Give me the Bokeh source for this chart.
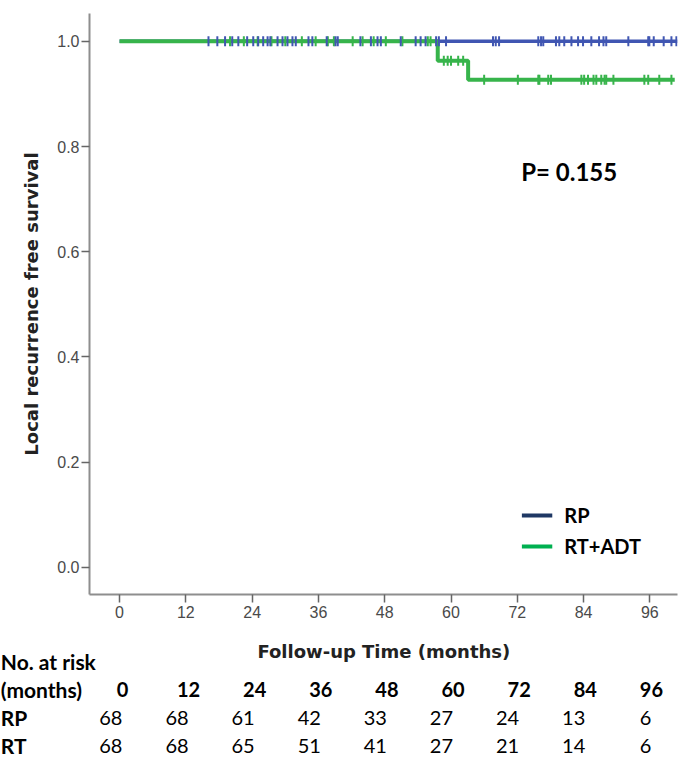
import numpy as np
from bokeh.plotting import figure
from bokeh.layouts import column
from bokeh.models import (FixedTicker, PrintfTickFormatter, Label,
                          Legend, LegendItem, Range1d)
from bokeh.core.properties import value
from bokeh.embed import file_html
from bokeh.resources import INLINE

# ---------------- data ----------------
# Kaplan-Meier step curves (time in months, survival)
rp_time = [0, 101.0]
rp_surv = [1.0, 1.0]
rt_time = [0, 57.6, 63.1, 100.5]
rt_surv = [1.0, 0.963, 0.927, 0.927]

# censoring marks
rp_cens_time = [16.1, 17.7, 19.1, 20.4, 21.5, 23.1, 24.2, 25.1, 26.0, 26.8, 27.3,
                28.6, 29.5, 30.4, 31.3, 31.9, 34.2, 34.9, 37.5, 39.1, 39.5, 43.6,
                45.5, 46.7, 47.3, 50.9, 53.6, 54.5, 55.4, 57.3, 57.8, 59.1, 67.6,
                68.1, 68.7, 75.8, 76.3, 76.7, 79.0, 79.6, 80.5, 81.8, 83.0, 83.9,
                85.4, 86.8, 87.6, 88.1, 92.1, 95.7, 95.9, 96.7, 98.5, 99.9, 100.8]
rp_cens_surv = [1.0] * len(rp_cens_time)
rt_cens_time = [20.0, 22.5, 25.0, 27.5, 30.0, 33.0, 35.5, 37.7, 38.8, 42.2, 44.0,
                46.0, 48.2, 51.2, 55.8, 56.3,
                58.7, 59.4, 60.0, 61.3, 62.2,
                66.0, 72.1, 75.8, 76.0, 77.6, 78.1, 83.6, 84.1, 84.8, 85.8, 86.3,
                87.2, 87.8, 88.1, 89.4, 95.0, 95.7, 97.7, 99.9]
rt_cens_surv = ([1.0] * 16 + [0.963] * 5 + [0.927] * 19)

x_ticks = [0, 12, 24, 36, 48, 60, 72, 84, 96]
y_ticks = [0.0, 0.2, 0.4, 0.6, 0.8, 1.0]

risk_months = [0, 12, 24, 36, 48, 60, 72, 84, 96]
risk_rp = [68, 68, 61, 42, 33, 27, 24, 13, 6]
risk_rt = [68, 68, 65, 51, 41, 27, 21, 14, 6]
row_names = ["No. at risk", "(months)", "RP", "RT"]

series_names = ["RP", "RT+ADT"]
p_text = "P= 0.155"
x_label = "Follow-up Time (months)"
y_label = "Local recurrence free survival"

# ---------------- styling ----------------
BLUE = "#4056b2"
GREEN = "#37b44b"
LEG_BLUE = "#1f3864"
LEG_GREEN = "#00b050"
AXIS_GRAY = "#8e8e8e"
W = 685
H1, H2 = 630, 129
XR = (-5.44, 101.0)          # x range of the plot frame (months)
PX_PER_MONTH = 5.51
FRAME_LEFT = 89

p = figure(width=W, height=H1, output_backend="svg", toolbar_location=None,
           x_range=Range1d(*XR), y_range=Range1d(-0.052, 1.053),
           min_border_left=FRAME_LEFT, min_border_right=8, min_border_top=13,
           min_border_bottom=36)
p.outline_line_color = None
p.xgrid.visible = False
p.ygrid.visible = False

for ax in (p.xaxis[0], p.yaxis[0]):
    ax.axis_line_color = AXIS_GRAY
    ax.axis_line_width = 2
    ax.major_tick_line_color = "#666666"
    ax.major_tick_line_width = 1.5
    ax.major_tick_in = 0
    ax.major_tick_out = 8
    ax.minor_tick_line_color = None
    ax.major_label_text_font = "Liberation Sans"
    ax.major_label_text_font_size = "16px"
    ax.major_label_text_color = "#4a4a4a"
    ax.axis_label_text_font = "DejaVu Sans"
    ax.axis_label_text_font_style = "bold"
    ax.axis_label_text_font_size = "18px"
    ax.axis_label_text_color = "#222222"

p.xaxis.ticker = FixedTicker(ticks=x_ticks)
p.yaxis.ticker = FixedTicker(ticks=y_ticks)
p.yaxis.formatter = PrintfTickFormatter(format="%.1f")
p.xaxis.major_label_standoff = 3
p.yaxis.major_label_standoff = 2
p.yaxis.axis_label = y_label
p.yaxis.axis_label_standoff = 12

# curves
p.step(rp_time, rp_surv, mode="after", line_color=BLUE, line_width=3.5)
p.step(rt_time, rt_surv, mode="after", line_color=GREEN, line_width=4)
p.scatter(rt_cens_time, rt_cens_surv, marker="dash", angle=np.pi / 2, size=10,
          line_color=GREEN, line_width=2)
p.scatter(rp_cens_time, rp_cens_surv, marker="dash", angle=np.pi / 2, size=10,
          line_color=BLUE, line_width=2)

# legend with its own colours (as in the reference)
nan = float("nan")
leg_rp = p.line(x=[nan], y=[nan], line_color=LEG_BLUE, line_width=4)
leg_rt = p.line(x=[nan], y=[nan], line_color=LEG_GREEN, line_width=4)
legend = Legend(items=[LegendItem(label=series_names[0], renderers=[leg_rp]),
                       LegendItem(label=series_names[1], renderers=[leg_rt])],
                location="bottom_right", margin=31, padding=5, spacing=7,
                glyph_width=31, glyph_height=20, label_height=20,
                label_standoff=12, border_line_alpha=0, background_fill_alpha=0,
                label_text_font="Lato", label_text_font_style="bold",
                label_text_font_size="20px", label_text_color="black")
p.add_layout(legend)

p.add_layout(Label(x=72.7, y=0.753, text=p_text, text_font="Lato",
                   text_font_style="bold", text_font_size="24px",
                   text_baseline="middle", text_color="black"))

# ---------------- lower panel: x-axis title + number-at-risk table ----------------
# same horizontal scale as the plot above; vertical units = page pixels
x0 = XR[0] - FRAME_LEFT / PX_PER_MONTH
x1 = x0 + W / PX_PER_MONTH
t = figure(width=W, height=H2, output_backend="svg", toolbar_location=None,
           x_range=Range1d(x0, x1), y_range=Range1d(H1 + H2, H1),
           x_axis_type=None, y_axis_type=None,
           min_border_left=0, min_border_right=0, min_border_top=0,
           min_border_bottom=0)
t.outline_line_color = None
t.xgrid.visible = False
t.ygrid.visible = False

row_y = [661, 689, 717, 745]

t.text(x=[(XR[0] + XR[1]) / 2 + 0.2], y=[651], text=[x_label],
       text_font=value("DejaVu Sans"), text_font_style="bold",
       text_font_size="18px", text_align="center", text_baseline="middle",
       text_color="#222222")

t.text(x=[x0 + 0.05] * 4, y=row_y, text=row_names, text_font=value("Lato"),
       text_font_style="bold", text_font_size="21px", text_align="left",
       text_baseline="middle", text_color="black")

n = len(risk_months)
t.text(x=risk_months, y=[row_y[1]] * n, text=[str(m) for m in risk_months],
       x_offset=3, text_font=value("Lato"), text_font_style="bold",
       text_font_size="20px", text_align="center", text_baseline="middle",
       text_color="black")
for vals, yy in ((risk_rp, row_y[2]), (risk_rt, row_y[3])):
    t.text(x=risk_months, y=[yy] * n, text=[str(v) for v in vals], x_offset=3,
           text_font=value("Lato"), text_font_size="20px", text_align="right",
           text_baseline="middle", text_color="black")

# keep the two panels' frames independent (the table spans the full width)
aligned_off = True
try:
    p.frame_align = False
    t.frame_align = False
except Exception:
    aligned_off = False

if aligned_off:
    html = file_html(column(p, t, spacing=0), INLINE)
else:
    html = file_html([p, t], INLINE)
open("out.html", "w").write(html)
